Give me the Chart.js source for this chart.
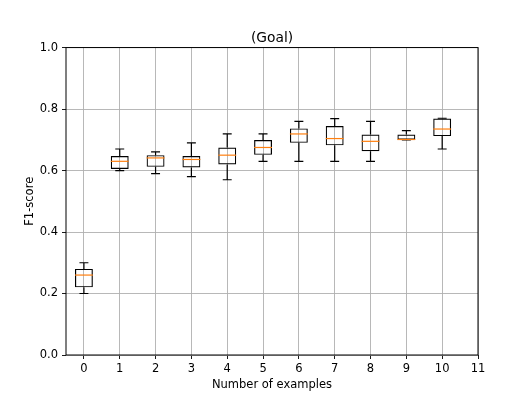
<!DOCTYPE html>
<html lang="en">
<head>
  <meta charset="UTF-8">
  <title>(Goal) F1-score boxplot</title>
  <script src="https://cdn.jsdelivr.net/npm/chart.js"></script>
  <style>
    body {
      margin: 0;
      background-color: #ffffff;
    }
    #chart-container {
      width: 531px;
      height: 399px;
    }
  </style>
</head>
<body>
<div id="chart-container">
  <canvas id="boxChart"></canvas>
</div>

<script>
  // number of examples and the five box statistics
  const examples = [0, 1, 2, 3, 4, 5, 6, 7, 8, 9, 10];
  const whiskerLow = [0.20, 0.60, 0.59, 0.58, 0.57, 0.63, 0.63, 0.63, 0.63, 0.70, 0.67];
  const q1 = [0.22, 0.605, 0.612, 0.61, 0.62, 0.651, 0.69, 0.682, 0.663, 0.70, 0.712];
  const median = [0.26, 0.63, 0.641, 0.636, 0.65, 0.675, 0.719, 0.704, 0.695, 0.701, 0.735];
  const q3 = [0.28, 0.647, 0.65, 0.647, 0.675, 0.699, 0.737, 0.745, 0.717, 0.717, 0.769];
  const whiskerHigh = [0.30, 0.67, 0.661, 0.69, 0.719, 0.719, 0.76, 0.769, 0.76, 0.73, 0.77];

  const xTicks = [0, 1, 2, 3, 4, 5, 6, 7, 8, 9, 10, 11];
  const yTicks = [0.0, 0.2, 0.4, 0.6, 0.8, 1.0];

  const tickFont = { family: 'DejaVu Sans', size: 11.5 };

  // whiskers, caps and median lines, drawn through the chart's scales
  const boxExtras = {
    id: 'boxExtras',
    afterDatasetsDraw(chart) {
      const ctx = chart.ctx;
      const xs = chart.scales.x;
      const ys = chart.scales.y;
      const half = (xs.getPixelForValue(1) - xs.getPixelForValue(0)) * 0.25;
      ctx.save();
      examples.forEach((e, i) => {
        const cx = xs.getPixelForValue(e);
        ctx.strokeStyle = '#000000';
        ctx.lineWidth = 1.2;
        ctx.beginPath();
        ctx.moveTo(cx, ys.getPixelForValue(whiskerLow[i]));
        ctx.lineTo(cx, ys.getPixelForValue(q1[i]));
        ctx.moveTo(cx, ys.getPixelForValue(q3[i]));
        ctx.lineTo(cx, ys.getPixelForValue(whiskerHigh[i]));
        ctx.moveTo(cx - half / 2, ys.getPixelForValue(whiskerLow[i]));
        ctx.lineTo(cx + half / 2, ys.getPixelForValue(whiskerLow[i]));
        ctx.moveTo(cx - half / 2, ys.getPixelForValue(whiskerHigh[i]));
        ctx.lineTo(cx + half / 2, ys.getPixelForValue(whiskerHigh[i]));
        ctx.stroke();

        ctx.strokeStyle = '#ff7f0e';
        ctx.beginPath();
        ctx.moveTo(cx - half, ys.getPixelForValue(median[i]));
        ctx.lineTo(cx + half, ys.getPixelForValue(median[i]));
        ctx.stroke();
      });
      // axes frame
      const a = chart.chartArea;
      ctx.strokeStyle = '#000000';
      ctx.lineWidth = 1;
      ctx.strokeRect(a.left, a.top, a.right - a.left, a.bottom - a.top);
      ctx.restore();
    }
  };

  const ctx = document.getElementById('boxChart').getContext('2d');
  new Chart(ctx, {
    type: 'bar',
    data: {
      datasets: [{
        label: 'F1-score',
        data: examples.map((e, i) => ({ x: e, y: [q1[i], q3[i]] })),
        backgroundColor: 'rgba(0,0,0,0)',
        borderColor: '#000000',
        borderWidth: 1.2,
        borderSkipped: false,
        barPercentage: 0.5,
        categoryPercentage: 1.0
      }]
    },
    options: {
      responsive: true,
      maintainAspectRatio: false,
      animation: false,
      layout: {
        padding: { left: 0, right: 53, top: 0, bottom: 0 }
      },
      plugins: {
        legend: { display: false },
        tooltip: { enabled: false },
        title: {
          display: true,
          fullSize: false,
          text: '(Goal)',
          color: '#000000',
          font: { family: 'DejaVu Sans', size: 13.8, weight: 'normal' },
          padding: { top: 30, bottom: 1 }
        }
      },
      scales: {
        x: {
          type: 'linear',
          min: -0.5,
          max: 11,
          offset: false,
          afterBuildTicks: scale => { scale.ticks = xTicks.map(v => ({ value: v })); },
          afterFit: scale => { scale.height = 44; },
          ticks: {
            color: '#000000',
            font: tickFont,
            padding: 3,
            maxRotation: 0,
            callback: v => String(v)
          },
          grid: {
            offset: false,
            color: '#b0b0b0',
            lineWidth: 0.9,
            tickColor: '#000000',
            tickLength: 4
          },
          border: { display: false },
          title: {
            display: true,
            text: 'Number of examples',
            color: '#000000',
            font: tickFont,
            padding: { top: 0, bottom: 7 }
          }
        },
        y: {
          min: 0,
          max: 1,
          afterBuildTicks: scale => { scale.ticks = yTicks.map(v => ({ value: v })); },
          afterFit: scale => { scale.width = 66; },
          ticks: {
            color: '#000000',
            font: tickFont,
            padding: 4,
            callback: v => v.toFixed(1)
          },
          grid: {
            color: '#b0b0b0',
            lineWidth: 0.9,
            tickColor: '#000000',
            tickLength: 4
          },
          border: { display: false },
          title: {
            display: true,
            text: 'F1-score',
            color: '#000000',
            font: tickFont,
            padding: { top: 23, bottom: 0 }
          }
        }
      }
    },
    plugins: [boxExtras]
  });
</script>
</body>
</html>
